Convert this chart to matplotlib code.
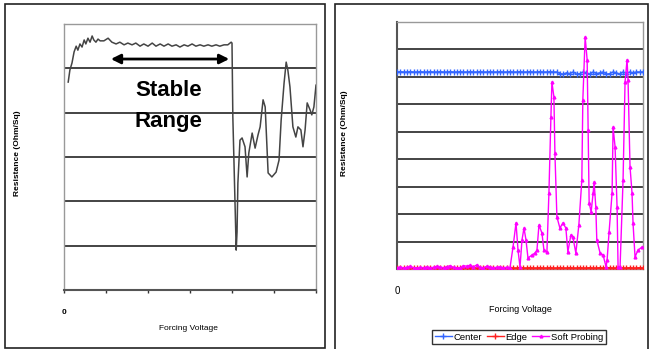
import numpy as np
import matplotlib.pyplot as plt
from matplotlib.patches import Rectangle

plt.rcParams['font.family'] = ['Liberation Sans', 'DejaVu Sans']

# left chart: single run, x in tick units, y in gridline units
left_x = [0.10, 0.14, 0.19, 0.24, 0.29, 0.33, 0.38, 0.43, 0.48, 0.52, 0.57, 0.62,
          0.67, 0.71, 0.76, 0.81, 0.86, 0.95, 1.05, 1.14, 1.24, 1.33, 1.43, 1.52,
          1.62, 1.71, 1.81, 1.90, 2.00, 2.10, 2.19, 2.29, 2.38, 2.48, 2.57, 2.67,
          2.76, 2.86, 2.95, 3.05, 3.14, 3.24, 3.33, 3.43, 3.52, 3.62, 3.71, 3.81,
          3.90, 3.98, 4.00, 4.02, 4.07, 4.10, 4.12, 4.14, 4.19, 4.24, 4.31, 4.36,
          4.40, 4.48, 4.55, 4.62, 4.67, 4.74, 4.79, 4.86, 4.95, 5.05, 5.12, 5.17,
          5.24, 5.29, 5.33, 5.38, 5.45, 5.52, 5.57, 5.64, 5.69, 5.74, 5.79, 5.86,
          5.90, 5.95, 6.00]
left_y = [4.69, 4.96, 5.12, 5.37, 5.50, 5.41, 5.55, 5.48, 5.64, 5.55, 5.68, 5.59,
          5.73, 5.64, 5.59, 5.66, 5.62, 5.62, 5.68, 5.59, 5.55, 5.59, 5.53, 5.57,
          5.53, 5.57, 5.50, 5.55, 5.50, 5.57, 5.50, 5.55, 5.50, 5.55, 5.50, 5.53,
          5.48, 5.53, 5.50, 5.55, 5.50, 5.53, 5.50, 5.53, 5.50, 5.53, 5.50, 5.53,
          5.53, 5.59, 5.57, 3.90, 2.03, 0.90, 1.31, 2.41, 3.38, 3.43, 3.23, 2.55,
          3.09, 3.54, 3.20, 3.50, 3.68, 4.29, 4.13, 2.64, 2.55, 2.66, 2.93, 3.83,
          4.67, 5.14, 4.96, 4.58, 3.68, 3.45, 3.68, 3.61, 3.23, 3.61, 4.22, 4.06,
          3.95, 4.13, 4.62]

# right chart: three series, x in point index
center = [7.18, 7.19, 7.18, 7.18, 7.19, 7.18, 7.18, 7.19, 7.18, 7.18, 7.19, 7.18,
          7.18, 7.19, 7.18, 7.18, 7.19, 7.18, 7.18, 7.19, 7.18, 7.18, 7.19, 7.18,
          7.18, 7.19, 7.18, 7.18, 7.19, 7.18, 7.18, 7.19, 7.18, 7.18, 7.19, 7.18,
          7.18, 7.19, 7.18, 7.18, 7.19, 7.18, 7.18, 7.19, 7.18, 7.18, 7.19, 7.18,
          7.18, 7.12, 7.10, 7.15, 7.12, 7.18, 7.10, 7.12, 7.18, 7.15, 7.10, 7.18,
          7.12, 7.15, 7.18, 7.10, 7.12, 7.18, 7.15, 7.10, 7.18, 7.12, 7.18, 7.15,
          7.18, 7.18, 7.18]
edge = [0.04, 0.05, 0.04, 0.04, 0.05, 0.04, 0.04, 0.05, 0.04, 0.04, 0.05, 0.04,
        0.04, 0.05, 0.04, 0.04, 0.05, 0.04, 0.04, 0.05, 0.04, 0.04, 0.05, 0.04,
        0.04, 0.05, 0.04, 0.04, 0.05, 0.04, 0.04, 0.05, 0.04, 0.04, 0.05, 0.04,
        0.04, 0.05, 0.04, 0.04, 0.05, 0.04, 0.04, 0.05, 0.04, 0.04, 0.05, 0.04,
        0.04, 0.05, 0.04, 0.04, 0.05, 0.04, 0.04, 0.05, 0.04, 0.04, 0.05, 0.04,
        0.04, 0.05, 0.04, 0.04, 0.05, 0.04, 0.04, 0.05, 0.04, 0.04, 0.05, 0.04,
        0.04, 0.05, 0.04]
soft_x = [0, 1, 2, 3, 4, 5, 6, 7, 8, 9, 10, 11, 12, 13, 14, 15, 16, 17, 18, 19,
          20, 21, 22, 23, 24, 25, 26, 27, 28, 29, 30, 31, 32, 33, 34,
          34.9, 35.8, 36.4, 37.0, 37.6, 38.2, 38.8, 39.4, 40.6, 41.5, 42.1, 42.7,
          43.6, 44.2, 45.1, 45.7, 46.3, 46.6, 47.2, 47.5, 48.1, 49.0, 49.9, 50.8,
          51.4, 52.3, 52.9, 53.8, 54.7, 55.6, 55.9, 56.6, 57.2, 57.5, 57.8, 58.4,
          59.0, 59.3, 59.8, 60.1, 61.1, 62.0, 62.9, 63.2, 63.8, 64.7, 65.0, 65.6,
          66.2, 66.5, 67.1, 68.0, 68.6, 69.2, 69.5, 70.1, 70.7, 71.0, 71.6, 72.5,
          73.7]
soft_y = [0.05, 0.08, 0.04, 0.06, 0.10, 0.05, 0.04, 0.06, 0.05, 0.08, 0.05, 0.06,
          0.10, 0.07, 0.05, 0.09, 0.12, 0.06, 0.04, 0.05, 0.12, 0.10, 0.14, 0.08,
          0.15, 0.06, 0.05, 0.10, 0.08, 0.05, 0.06, 0.08, 0.05, 0.06, 0.05,
          0.80, 1.68, 0.69, 0.07, 1.06, 1.49, 1.06, 0.40, 0.51, 0.58, 0.69, 1.60,
          1.31, 0.69, 0.62, 2.77, 5.54, 6.81, 6.27, 4.23, 1.90, 1.49, 1.68, 1.49,
          0.62, 1.24, 1.17, 0.58, 1.60, 3.24, 6.16, 8.45, 7.62, 5.07, 2.41, 2.08,
          2.77, 3.17, 2.26, 1.06, 0.58, 0.51, 0.07, 0.33, 1.35, 2.77, 5.17, 4.45,
          2.26, 0.07, 0.07, 3.24, 6.81, 7.62, 6.89, 3.72, 2.77, 1.68, 0.44, 0.69,
          0.80]

fig = plt.figure(figsize=(6.49, 3.49), dpi=100)

# panel frames
fig.patches.append(Rectangle((5 / 649, 1 - 348 / 349), 320 / 649, 344 / 349,
                             transform=fig.transFigure, fill=False, ec='#222222', lw=1.2))
fig.patches.append(Rectangle((335 / 649, -0.01), 313 / 649, 1 - 4 / 349 + 0.01,
                             transform=fig.transFigure, fill=False, ec='#222222', lw=1.2))

# ---- left chart
ax1 = fig.add_axes([64 / 649, 1 - 290 / 349, 252 / 649, 266 / 349])
for g in range(1, 6):
    ax1.axhline(g, color='#111111', lw=1.1, zorder=1)
ax1.plot(left_x, left_y, color='#444444', lw=1.1, zorder=3)
ax1.set_xlim(0, 6)
ax1.set_ylim(0, 6)
ax1.set_xticks(range(7))
ax1.set_xticklabels(['0', '', '', '', '', '', ''], fontsize=6, fontweight='bold')
ax1.tick_params(axis='x', length=2, width=1, pad=12, color='#333333')
ax1.set_yticks([])
for s in ax1.spines.values():
    s.set_color('#999999')
    s.set_linewidth(1)
ax1.spines['bottom'].set_color('#555555')
ax1.spines['bottom'].set_linewidth(1.5)
ax1.annotate('', xy=(4.0, 5.21), xytext=(1.05, 5.21),
             arrowprops=dict(arrowstyle='<|-|>', color='black', lw=2, mutation_scale=14))
ax1.text(2.48, 4.49, 'Stable', ha='center', va='center', fontsize=16, fontweight='bold')
ax1.text(2.48, 3.81, 'Range', ha='center', va='center', fontsize=16, fontweight='bold')
fig.text(18 / 649, 1 - 153 / 349, 'Resistance (Ohm/Sq)', rotation=90, ha='center',
         va='center', fontsize=6, fontweight='bold')
fig.text(188 / 649, 1 - 329 / 349, 'Forcing Voltage', ha='center', va='center',
         fontsize=6)

# ---- right chart
ax2 = fig.add_axes([397 / 649, 1 - 269 / 349, 246 / 649, 247 / 349])
for g in range(1, 9):
    ax2.axhline(g, color='#111111', lw=1.1, zorder=1)
idx = np.arange(len(center))
ax2.plot(idx, center, color='#3366ff', lw=1, marker='+', ms=4, mew=1, label='Center', zorder=3)
ax2.plot(idx, edge, color='#ff2020', lw=1, marker='+', ms=4, mew=1, label='Edge', zorder=4)
ax2.plot(soft_x, soft_y, color='#ff00ff', lw=1, marker='^', ms=2, label='Soft Probing', zorder=5)
ax2.set_xlim(0, 74)
ax2.set_ylim(0, 9)
ax2.set_xticks([0])
ax2.set_xticklabels(['0'], fontsize=7)
ax2.tick_params(axis='x', length=0, pad=12)
ax2.set_yticks([])
for s in ax2.spines.values():
    s.set_color('#999999')
    s.set_linewidth(1)
ax2.spines['left'].set_color('#555555')
ax2.spines['left'].set_linewidth(1.5)
fig.text(345 / 649, 1 - 133 / 349, 'Resistance (Ohm/Sq)', rotation=90, ha='center',
         va='center', fontsize=6, fontweight='bold')
fig.text(520 / 649, 1 - 310 / 349, 'Forcing Voltage', ha='center', va='center',
         fontsize=6.5)
fig.legend(loc='center', bbox_to_anchor=(519 / 649, 1 - 337 / 349), ncol=3,
           fontsize=6.8, frameon=True, fancybox=False, edgecolor='black',
           handlelength=1.8, handletextpad=0.2, columnspacing=0.5,
           borderpad=0.3, borderaxespad=0)

fig.savefig('out.png', dpi=100)
